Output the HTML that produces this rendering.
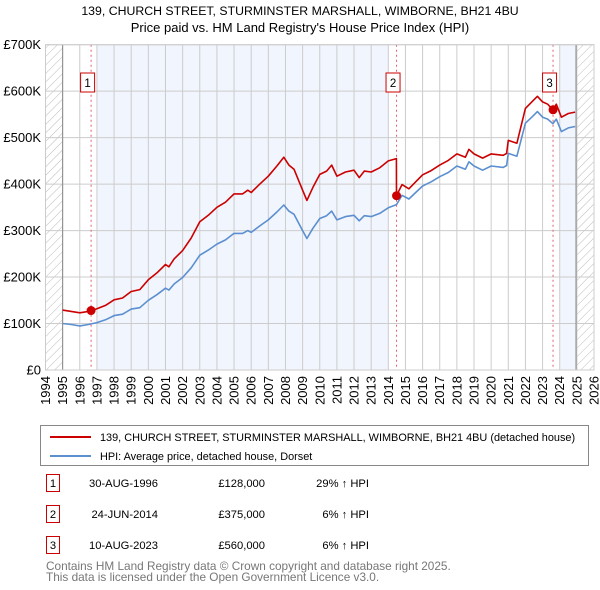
<!DOCTYPE html>
<html><head><meta charset="utf-8"><style>
body{margin:0;background:#fff;font-family:"Liberation Sans",sans-serif;}
#wrap{position:relative;width:600px;height:590px;overflow:hidden;}
svg text{font-family:"Liberation Sans",sans-serif;}
</style></head><body><div id="wrap">
<svg id="chart" width="600" height="590" xmlns="http://www.w3.org/2000/svg">
<defs><pattern id="hatch" width="6" height="6" patternUnits="userSpaceOnUse" patternTransform="rotate(45)"><line x1="0" y1="0" x2="0" y2="6" stroke="#bbb" stroke-width="1"/></pattern></defs>
<text x="300" y="15" text-anchor="middle" font-size="12.3">139, CHURCH STREET, STURMINSTER MARSHALL, WIMBORNE, BH21 4BU</text>
<text x="300" y="32" text-anchor="middle" font-size="13">Price paid vs. HM Land Registry's House Price Index (HPI)</text>
<g id="plot"></g>
<g>
<rect x="40.5" y="425.5" width="548" height="40" fill="#fff" stroke="#888"/>
<line x1="50" y1="437" x2="91" y2="437" stroke="#cc0000" stroke-width="2"/>
<text x="100" y="441" font-size="10.9">139, CHURCH STREET, STURMINSTER MARSHALL, WIMBORNE, BH21 4BU (detached house)</text>
<line x1="50" y1="456" x2="91" y2="456" stroke="#5b8fd0" stroke-width="2"/>
<text x="100" y="460" font-size="10.9">HPI: Average price, detached house, Dorset</text>
</g>
<g font-size="11.2">
<rect x="46.5" y="474.5" width="13" height="17" fill="#fff" stroke="#cc0000"/>
<text x="53" y="487" text-anchor="middle">1</text>
<text x="158" y="487" text-anchor="end">30-AUG-1996</text>
<text x="265" y="487" text-anchor="end">£128,000</text>
<text x="369" y="487" text-anchor="end">29% ↑ HPI</text>
<rect x="46.5" y="505.5" width="13" height="17" fill="#fff" stroke="#cc0000"/>
<text x="53" y="518" text-anchor="middle">2</text>
<text x="158" y="518" text-anchor="end">24-JUN-2014</text>
<text x="265" y="518" text-anchor="end">£375,000</text>
<text x="369" y="518" text-anchor="end">6% ↑ HPI</text>
<rect x="46.5" y="536.5" width="13" height="17" fill="#fff" stroke="#cc0000"/>
<text x="53" y="549" text-anchor="middle">3</text>
<text x="158" y="549" text-anchor="end">10-AUG-2023</text>
<text x="265" y="549" text-anchor="end">£560,000</text>
<text x="369" y="549" text-anchor="end">6% ↑ HPI</text>
</g>
<text x="46" y="570" font-size="11.8" fill="#777">Contains HM Land Registry data © Crown copyright and database right 2025.</text>
<text x="46" y="581" font-size="11.8" fill="#777">This data is licensed under the Open Government Licence v3.0.</text>
</svg></div>
<script>
const times=[1995.0,1995.5,1996.0,1996.5,1997.0,1997.5,1998.0,1998.5,1999.0,1999.5,2000.0,2000.5,2001.0,2001.2,2001.5,2002.0,2002.5,2003.0,2003.5,2004.0,2004.5,2005.0,2005.5,2005.8,2006.0,2006.5,2007.0,2007.5,2007.9,2008.2,2008.5,2009.0,2009.25,2009.6,2010.0,2010.4,2010.7,2011.0,2011.5,2012.0,2012.3,2012.6,2013.0,2013.5,2014.0,2014.47,2014.48,2014.8,2015.2,2015.6,2016.0,2016.5,2017.0,2017.5,2018.0,2018.5,2018.7,2019.0,2019.5,2020.0,2020.7,2020.9,2021.0,2021.5,2022.0,2022.4,2022.7,2023.0,2023.3,2023.6,2023.8,2024.1,2024.5,2024.9];
const hpiValues=[100,98,95,98,102,108,117,120,131,134,150,162,176,172,185,199,220,247,258,271,280,294,294,300,296,310,323,340,355,342,335,300,283,305,326,332,342,323,330,333,321,332,330,337,349,356,356,376,368,382,396,405,416,425,439,432,448,439,430,439,436,440,466,460,531,545,556,544,540,530,540,513,521,524];
const priceValues=[129,126,123,126,132,139,151,155,169,173,194,209,227,222,239,257,284,319,333,350,361,379,379,387,382,400,417,439,458,441,432,387,365,393,421,428,441,417,426,430,414,428,426,435,450,455,375,399,390,405,420,429,441,451,465,458,475,465,456,465,462,466,494,488,563,578,589,577,572,560,572,544,552,555];
const saleTimes=[1996.66,2014.48,2023.61];
const salePrices=[128,375,560];
const saleLabels=["1","2","3"];
const yTicks=[0,100,200,300,400,500,600,700];
const yTickLabels=["£0","£100K","£200K","£300K","£400K","£500K","£600K","£700K"];
const xYears=[1994,1995,1996,1997,1998,1999,2000,2001,2002,2003,2004,2005,2006,2007,2008,2009,2010,2011,2012,2013,2014,2015,2016,2017,2018,2019,2020,2021,2022,2023,2024,2025,2026];

const X0=45.5,X1=594,Y0=370,Y1=44.7;
const xs=t=>X0+(t-1994)*(X1-X0)/32;
const ys=v=>Y0-(v/700)*(Y0-Y1);
const NS="http://www.w3.org/2000/svg";
const g=document.getElementById('plot');
function mk(tag,attrs){const e=document.createElementNS(NS,tag);for(const k in attrs)e.setAttribute(k,attrs[k]);g.appendChild(e);return e;}

let e;
e=mk('rect',{x:xs(1997),y:Y1,width:xs(2014)-xs(1997),height:Y0-Y1,fill:'#f1f5fd'});


e=mk('rect',{x:xs(2024),y:Y1,width:xs(2024.95)-xs(2024),height:Y0-Y1,fill:'#f1f5fd'});


e=mk('rect',{x:X0,y:Y1,width:xs(1995)-X0,height:Y0-Y1,fill:'url(#hatch)'});


e=mk('rect',{x:xs(2024.95),y:Y1,width:X1-xs(2024.95),height:Y0-Y1,fill:'url(#hatch)'});



xYears.forEach(yr=>{
  const x=xs(yr);
  e=mk('line',{x1:x,x2:x,y1:Y1,y2:Y0,stroke:'#ccc','stroke-width':1});
  
  
  e=mk('text',{x:0,y:0,'font-size':13,'text-anchor':'end',transform:`translate(${x+4.5},${Y0+6}) rotate(-90)`});
  e.textContent=yr;
  
  
});
yTicks.forEach((v,i)=>{
  const y=ys(v);
  e=mk('line',{x1:X0,x2:X1,y1:y,y2:y,stroke:'#ccc','stroke-width':1});
  
  
  e=mk('text',{x:41,y:y+4.5,'font-size':13,'text-anchor':'end'});
  e.textContent=yTickLabels[i];
  
  
});
e=mk('line',{x1:xs(1995),x2:xs(1995),y1:Y1,y2:Y0,stroke:'#888','stroke-width':1});


e=mk('line',{x1:xs(2024.95),x2:xs(2024.95),y1:Y1,y2:Y0,stroke:'#888','stroke-width':1});



saleTimes.forEach((t,i)=>{
  const x=xs(t);
  e=mk('line',{x1:x,x2:x,y1:Y1,y2:Y0,stroke:'#e06070','stroke-width':1,'stroke-dasharray':'2,3'});
  
  
});

const hp=times.map((t,i)=>xs(t).toFixed(1)+','+ys(hpiValues[i]).toFixed(1)).join(' ');
e=mk('polyline',{points:hp,fill:'none',stroke:'#5b8fd0','stroke-width':1.6,'stroke-linejoin':'round'});


const pp=times.map((t,i)=>xs(t).toFixed(1)+','+ys(priceValues[i]).toFixed(1)).join(' ');
e=mk('polyline',{points:pp,fill:'none',stroke:'#cc0000','stroke-width':1.6,'stroke-linejoin':'round'});



saleTimes.forEach((t,i)=>{
  const x=xs(t);
  e=mk('circle',{cx:x,cy:ys(salePrices[i]),r:4.5,fill:'#cc0000'});
  
  
  e=mk('rect',{x:x-10.5,y:73,width:14,height:19,fill:'#fff',stroke:'#cc0000'});
  
  
  e=mk('text',{x:x-3.5,y:87,'font-size':11.5,'text-anchor':'middle'});
  e.textContent=saleLabels[i];
  
  
});
e=mk('rect',{x:X0,y:Y1,width:X1-X0,height:Y0-Y1,fill:'none',stroke:'#ccc'});


</script></body></html>
